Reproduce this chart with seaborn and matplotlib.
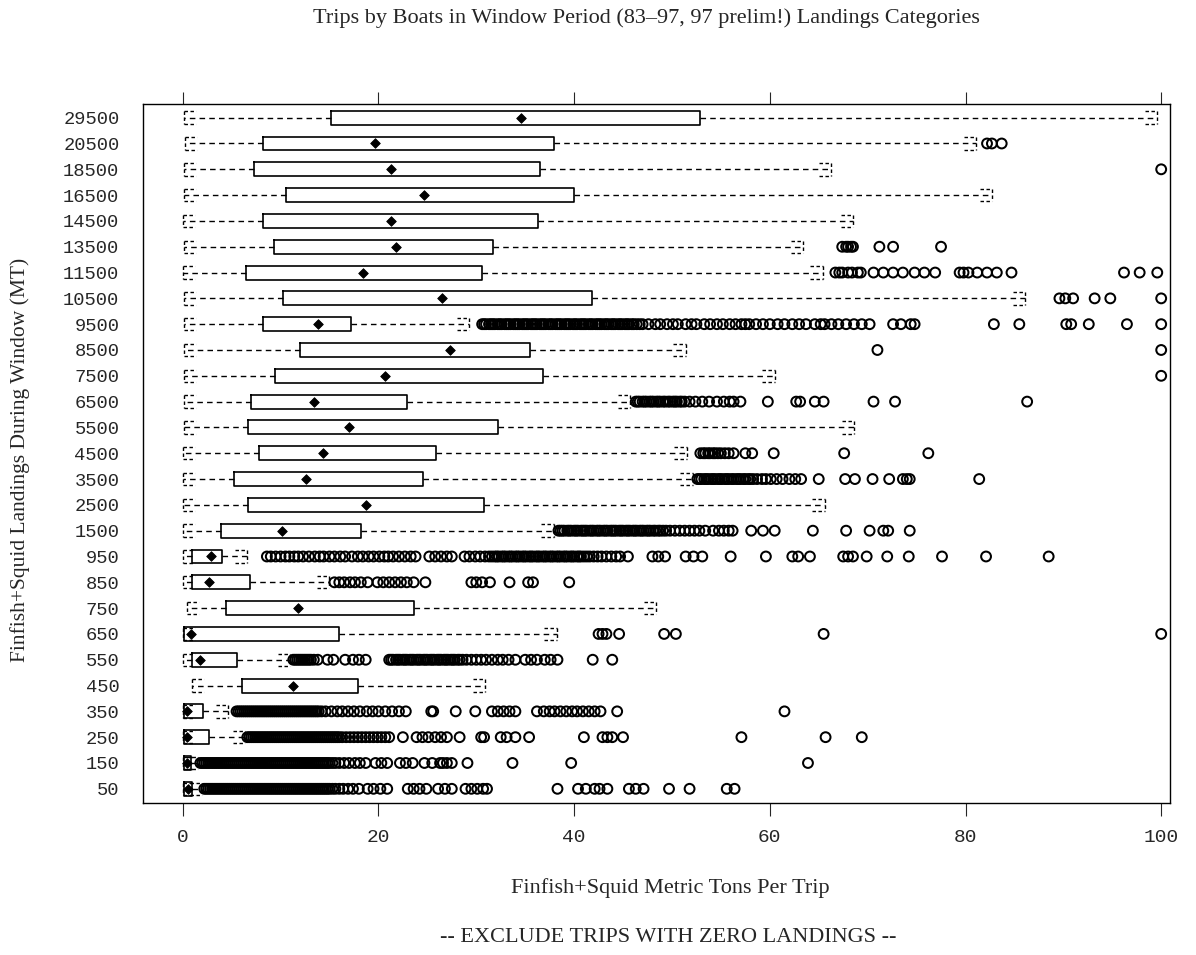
import matplotlib
matplotlib.use("Agg")
import matplotlib.pyplot as plt
import numpy as np
import pandas as pd
import seaborn as sns

# Landings categories (MT), top to bottom
categories = ["29500", "20500", "18500", "16500", "14500", "13500", "11500",
              "10500", "9500", "8500", "7500", "6500", "5500", "4500", "3500",
              "2500", "1500", "950", "850", "750", "650", "550", "450", "350",
              "250", "150", "50"]

# Box summaries: metric tons per trip
whisker_low = [0.1, 0.2, 0.1, 0.1, 0.0, 0.1, 0.0, 0.1, 0.1, 0.1, 0.1, 0.1, 0.1, 0.0,
               0.0, 0.0, 0.0, 0.0, 0.0, 0.4, 0.0, 0.0, 0.9, 0.0, 0.0, 0.0, 0.0]
quart1 = [15.2, 8.2, 7.3, 10.6, 8.2, 9.3, 6.5, 10.2, 8.2, 12.0, 9.4, 7.0, 6.7, 7.8,
          5.2, 6.7, 3.9, 0.9, 0.9, 4.4, 0.1, 0.9, 6.1, 0.1, 0.1, 0.1, 0.1]
quart3 = [52.9, 37.9, 36.5, 40.0, 36.3, 31.7, 30.6, 41.8, 17.2, 35.5, 36.8, 22.9, 32.2,
          25.9, 24.6, 30.8, 18.2, 4.0, 6.9, 23.6, 16.0, 5.5, 17.9, 2.1, 2.7, 0.8, 0.9]
means = [34.6, 19.6, 21.3, 24.7, 21.3, 21.8, 18.4, 26.5, 13.8, 27.3, 20.7, 13.4, 17.0,
         14.3, 12.6, 18.7, 10.1, 2.9, 2.7, 11.8, 0.8, 1.8, 11.3, 0.4, 0.4, 0.4, 0.5]
whisker_high = [99.6, 81.1, 66.3, 82.7, 68.5, 63.4, 65.4, 86.1, 29.3, 51.4, 60.5, 45.7,
                68.6, 51.5, 52.1, 65.6, 37.9, 6.6, 15.0, 48.4, 38.2, 11.0, 30.9, 4.6,
                6.4, 1.6, 2.0]

# Outlying trips per category
out_29500 = []
out_20500 = [82.2, 82.7, 83.7]
out_18500 = [100.0]
out_16500 = []
out_14500 = []
out_13500 = [67.4, 67.8, 68.0, 68.3, 68.5, 71.2, 72.6, 77.5]
out_11500 = [66.7, 67.1, 67.4, 68.0, 68.4, 69.0, 69.3, 70.6, 71.6, 72.6, 73.6, 74.8,
             75.8, 76.9, 79.4, 79.8, 80.3, 81.2, 82.2, 83.2, 84.7, 96.2, 97.8, 99.6]
out_10500 = [89.6, 90.2, 91.0, 93.2, 94.8, 100.0]
out_9500 = [30.6, 30.8, 31.0, 31.3, 31.5, 31.7, 31.9, 32.2, 32.4, 32.6, 32.9, 33.1,
            33.3, 33.5, 33.8, 34.0, 34.2, 34.4, 34.7, 34.9, 35.1, 35.3, 35.6, 35.8,
            36.0, 36.2, 36.5, 36.7, 36.9, 37.1, 37.4, 37.6, 37.8, 38.1, 38.3, 38.5,
            38.7, 39.0, 39.2, 39.4, 39.6, 39.9, 40.1, 40.3, 40.6, 40.8, 41.0, 41.2,
            41.5, 41.7, 41.9, 42.2, 42.4, 42.6, 42.8, 43.1, 43.3, 43.5, 43.8, 44.0,
            44.2, 44.5, 44.7, 44.9, 45.2, 45.4, 45.6, 45.9, 46.1, 46.4, 46.7, 47.0,
            47.6, 48.3, 48.8, 49.5, 50.1, 50.6, 51.4, 52.0, 52.5, 53.3, 53.9, 54.6,
            55.2, 55.9, 56.5, 57.1, 57.5, 57.9, 58.6, 59.3, 60.0, 60.8, 61.5, 62.3,
            63.0, 63.7, 64.6, 65.2, 65.6, 66.3, 67.0, 67.8, 68.6, 69.4, 70.2, 72.6,
            73.4, 74.4, 74.8, 82.9, 85.5, 90.3, 90.8, 92.6, 96.5, 100.0]
out_8500 = [71.0, 100.0]
out_7500 = [100.0]
out_6500 = [46.3, 46.5, 46.7, 47.0, 47.2, 47.4, 47.7, 47.9, 48.1, 48.4, 48.6, 48.8,
            49.1, 49.3, 49.6, 49.8, 50.1, 50.3, 50.5, 50.8, 51.0, 51.3, 51.8, 52.4,
            53.1, 53.8, 54.6, 55.3, 55.9, 56.3, 57.0, 59.8, 62.7, 63.1, 64.6, 65.5,
            70.6, 72.8, 86.3]
out_5500 = []
out_4500 = [52.9, 53.2, 53.4, 53.7, 53.9, 54.2, 54.4, 54.7, 55.0, 55.4, 55.8, 56.3,
            57.5, 58.2, 60.4, 67.6, 76.2]
out_3500 = [52.6, 52.8, 53.0, 53.3, 53.5, 53.7, 54.0, 54.2, 54.4, 54.7, 54.9, 55.1,
            55.4, 55.6, 55.8, 56.1, 56.3, 56.6, 56.8, 57.0, 57.3, 57.5, 57.8, 58.0,
            58.3, 58.7, 59.2, 59.6, 60.1, 60.7, 61.3, 62.0, 62.6, 63.2, 65.0, 67.7,
            68.7, 70.5, 72.2, 73.6, 74.0, 74.3, 81.4]
out_2500 = []
out_1500 = [38.4, 38.6, 38.8, 39.0, 39.3, 39.5, 39.7, 40.0, 40.2, 40.4, 40.7, 40.9,
            41.1, 41.3, 41.6, 41.8, 42.0, 42.3, 42.5, 42.7, 43.0, 43.2, 43.4, 43.7,
            43.9, 44.1, 44.3, 44.6, 44.8, 45.0, 45.3, 45.5, 45.7, 46.0, 46.2, 46.4,
            46.7, 46.9, 47.1, 47.4, 47.6, 47.8, 48.1, 48.3, 48.6, 48.8, 49.1, 49.4,
            49.8, 50.3, 50.8, 51.3, 51.8, 52.3, 52.8, 53.4, 54.2, 54.8, 55.3, 55.8,
            56.2, 58.1, 59.3, 60.5, 64.4, 67.8, 70.2, 71.6, 72.1, 74.3]
out_950 = [8.6, 9.0, 9.5, 10.0, 10.5, 10.9, 11.4, 11.8, 12.3, 12.9, 13.5, 14.0, 14.4,
           15.0, 15.5, 16.1, 16.6, 17.3, 17.9, 18.4, 19.0, 19.5, 20.1, 20.6, 21.0,
           21.5, 22.1, 22.7, 23.3, 23.8, 25.2, 25.8, 26.4, 27.0, 27.5, 28.8, 29.3,
           29.9, 30.4, 30.9, 31.3, 31.6, 31.9, 32.1, 32.3, 32.6, 32.8, 33.0, 33.3,
           33.5, 33.7, 34.0, 34.2, 34.4, 34.7, 34.9, 35.1, 35.4, 35.6, 35.8, 36.1,
           36.3, 36.5, 36.8, 37.0, 37.2, 37.5, 37.7, 37.9, 38.2, 38.4, 38.6, 38.9,
           39.1, 39.3, 39.6, 39.8, 40.0, 40.3, 40.5, 40.7, 41.0, 41.3, 41.6, 42.0,
           42.4, 42.8, 43.3, 43.8, 44.3, 44.7, 45.5, 48.0, 48.6, 49.3, 51.4, 52.2,
           53.1, 56.0, 59.6, 62.3, 62.9, 64.1, 67.5, 68.0, 68.5, 69.9, 72.0, 74.2,
           77.6, 82.1, 88.5]
out_850 = [15.5, 16.0, 16.5, 17.1, 17.6, 18.2, 18.9, 19.9, 20.5, 21.1, 21.7, 22.3,
           22.9, 23.6, 24.8, 29.5, 30.0, 30.6, 31.4, 33.4, 35.3, 35.8, 39.5]
out_750 = []
out_650 = [42.5, 42.9, 43.3, 44.6, 49.2, 50.4, 65.5, 100.0]
out_550 = [11.3, 11.5, 11.7, 11.9, 12.1, 12.3, 12.5, 12.7, 12.9, 13.1, 13.4, 13.8,
           14.8, 15.4, 16.6, 17.4, 18.0, 18.7, 21.1, 21.3, 21.5, 21.8, 22.0, 22.2,
           22.5, 22.7, 22.9, 23.2, 23.4, 23.6, 23.9, 24.1, 24.3, 24.6, 24.8, 25.0,
           25.3, 25.5, 25.7, 26.0, 26.2, 26.4, 26.7, 26.9, 27.1, 27.4, 27.6, 27.8,
           28.1, 28.3, 28.6, 29.0, 29.5, 30.0, 30.5, 31.0, 31.6, 32.2, 32.7, 33.3,
           34.0, 35.0, 35.6, 36.2, 37.0, 37.6, 38.3, 41.9, 43.9]
out_450 = []
out_350 = [5.5, 5.7, 5.9, 6.1, 6.3, 6.5, 6.7, 6.9, 7.1, 7.3, 7.5, 7.7, 7.9, 8.1, 8.3,
           8.5, 8.7, 8.9, 9.1, 9.3, 9.5, 9.7, 9.9, 10.1, 10.3, 10.5, 10.7, 10.9,
           11.1, 11.3, 11.5, 11.7, 11.9, 12.1, 12.3, 12.5, 12.7, 12.9, 13.1, 13.3,
           13.5, 13.7, 13.9, 14.2, 14.6, 15.2, 15.8, 16.3, 16.9, 17.5, 18.1, 18.8,
           19.4, 20.0, 20.7, 21.4, 22.1, 22.8, 25.4, 25.6, 27.9, 29.9, 31.6, 32.2,
           32.8, 33.4, 34.0, 36.2, 36.9, 37.5, 38.0, 38.6, 39.2, 39.8, 40.3, 40.9,
           41.5, 42.1, 42.7, 44.4, 61.5]
out_250 = [6.6, 6.8, 7.0, 7.2, 7.4, 7.6, 7.8, 8.0, 8.2, 8.4, 8.6, 8.8, 9.0, 9.2, 9.4,
           9.6, 9.8, 10.0, 10.2, 10.4, 10.6, 10.8, 11.0, 11.2, 11.4, 11.6, 11.8,
           12.0, 12.2, 12.4, 12.6, 12.8, 13.0, 13.2, 13.4, 13.6, 13.8, 14.0, 14.2,
           14.4, 14.6, 14.8, 15.0, 15.2, 15.4, 15.6, 15.8, 16.0, 16.3, 16.7, 17.1,
           17.5, 17.9, 18.3, 18.7, 19.1, 19.5, 19.9, 20.3, 20.7, 21.1, 22.5, 23.9,
           24.5, 25.1, 25.8, 26.4, 27.0, 28.3, 30.5, 30.8, 32.5, 33.1, 34.0, 35.4,
           41.0, 42.9, 43.4, 43.9, 45.0, 57.1, 65.7, 69.4]
out_150 = [1.8, 2.0, 2.2, 2.4, 2.6, 2.8, 3.0, 3.2, 3.4, 3.6, 3.8, 4.0, 4.2, 4.4, 4.6,
           4.8, 5.0, 5.2, 5.4, 5.6, 5.8, 6.0, 6.2, 6.4, 6.6, 6.8, 7.0, 7.2, 7.4, 7.6,
           7.8, 8.0, 8.2, 8.4, 8.6, 8.8, 9.0, 9.2, 9.4, 9.6, 9.8, 10.0, 10.2, 10.4,
           10.6, 10.8, 11.0, 11.2, 11.4, 11.6, 11.8, 12.0, 12.2, 12.4, 12.6, 12.8,
           13.0, 13.2, 13.4, 13.6, 13.8, 14.0, 14.2, 14.4, 14.6, 14.8, 15.0, 15.3,
           15.6, 16.0, 16.5, 17.0, 17.6, 18.1, 18.7, 19.7, 20.3, 20.9, 22.2, 22.8,
           23.5, 24.7, 25.5, 26.3, 26.6, 27.0, 27.5, 29.1, 33.7, 39.7, 63.9]
out_50 = [2.2, 2.4, 2.6, 2.8, 3.0, 3.2, 3.4, 3.6, 3.8, 4.0, 4.2, 4.4, 4.6, 4.8, 5.0,
          5.2, 5.4, 5.6, 5.8, 6.0, 6.2, 6.4, 6.6, 6.8, 7.0, 7.2, 7.4, 7.6, 7.8, 8.0,
          8.2, 8.4, 8.6, 8.8, 9.0, 9.2, 9.4, 9.6, 9.8, 10.0, 10.2, 10.4, 10.6, 10.8,
          11.0, 11.2, 11.4, 11.6, 11.8, 12.0, 12.2, 12.4, 12.6, 12.8, 13.0, 13.2,
          13.4, 13.6, 13.8, 14.0, 14.2, 14.4, 14.6, 14.8, 15.0, 15.3, 15.6, 16.0,
          16.4, 16.9, 17.4, 18.0, 18.9, 19.5, 20.2, 20.9, 23.0, 23.6, 24.2, 24.9,
          26.1, 26.8, 27.5, 28.9, 29.5, 30.1, 30.7, 31.1, 38.3, 40.4, 41.2, 42.1,
          42.6, 43.4, 45.6, 46.3, 47.1, 49.7, 51.8, 55.6, 56.4]

outliers = [out_29500, out_20500, out_18500, out_16500, out_14500, out_13500,
            out_11500, out_10500, out_9500, out_8500, out_7500, out_6500, out_5500,
            out_4500, out_3500, out_2500, out_1500, out_950, out_850, out_750,
            out_650, out_550, out_450, out_350, out_250, out_150, out_50]

x_ticks = [0, 20, 40, 60, 80, 100]

title = "Trips by Boats in Window Period (83\u201397, 97 prelim!) Landings Categories"
x_title = "Finfish+Squid Metric Tons Per Trip"
y_title = "Finfish+Squid Landings During Window (MT)"
note = "-- EXCLUDE TRIPS WITH ZERO LANDINGS --"

sns.set_style("ticks")
plt.rcParams["font.family"] = ["Liberation Serif", "DejaVu Serif"]

W, H = 1196, 955
fig = plt.figure(figsize=(W / 100, H / 100), dpi=100)
ax = fig.add_axes([143 / W, 1 - 803 / H, (1170 - 143) / W, (803 - 104) / H])

pos = np.arange(len(categories))
box_h = 0.54

stats = []
for i in range(len(categories)):
    stats.append(dict(q1=quart1[i], q3=quart3[i], med=means[i], mean=means[i],
                      whislo=whisker_low[i], whishi=whisker_high[i], fliers=[]))

common = dict(positions=pos, widths=box_h, showcaps=False, showfliers=False,
              showmeans=False,
              boxprops=dict(color="black", linewidth=1.2),
              medianprops=dict(linewidth=0),
              whiskerprops=dict(color="black", linewidth=1.0, linestyle=(0, (4, 3))))
try:
    ax.bxp(stats, orientation="horizontal", **common)
except TypeError:
    ax.bxp(stats, vert=False, **common)

# Dashed bracket ends at whisker limits
cap_w = 1.25
cap_h = 0.24
dash = (0, (2.5, 1.8))
for i in range(len(categories)):
    lo, hi = whisker_low[i], whisker_high[i]
    ax.vlines([lo, hi], pos[i] - cap_h, pos[i] + cap_h, colors="black",
              linewidth=1.0, linestyles=dash)
    for yy in (pos[i] - cap_h, pos[i] + cap_h):
        ax.hlines(yy, lo, lo + cap_w, colors="black", linewidth=1.0, linestyles=dash)
        ax.hlines(yy, hi - cap_w, hi, colors="black", linewidth=1.0, linestyles=dash)

# Outlying trips as open circles
out_df = pd.DataFrame({
    "tons": [v for lst in outliers for v in lst],
    "row": [i for i, lst in enumerate(outliers) for _ in lst],
})
sns.scatterplot(data=out_df, x="tons", y="row", ax=ax, marker="o", s=50,
                facecolor="none", edgecolor="black", linewidth=1.45, legend=False,
                zorder=3)

# Category means as filled diamonds
mean_df = pd.DataFrame({"tons": means, "row": pos})
sns.scatterplot(data=mean_df, x="tons", y="row", ax=ax, marker="D", s=24,
                color="black", edgecolor="black", linewidth=0.6, legend=False,
                zorder=4)

ax.set_xlim(-4.06, 100.9)
ax.set_ylim(26.55, -0.53)
ax.set_yticks(pos)
ax.set_yticklabels(categories, family="Liberation Mono", fontsize=13.5)
ax.set_xticks(x_ticks)
ax.set_xticklabels([str(t) for t in x_ticks], family="Liberation Mono", fontsize=14)
ax.tick_params(axis="y", length=0, pad=17)
ax.tick_params(axis="x", top=True, bottom=True, labeltop=False, direction="out",
               length=9, width=0.8, pad=10)
ax.set_xlabel("")
ax.set_ylabel("")
for s in ax.spines.values():
    s.set_visible(True)
    s.set_linewidth(1.0)
    s.set_color("black")

fig.text(646 / W, 1 - 18 / H, title, ha="center", va="center", fontsize=16)
fig.text(670 / W, 1 - 888 / H, x_title, ha="center", va="center", fontsize=16)
fig.text(20 / W, 1 - 460 / H, y_title, ha="center", va="center", rotation=90,
         fontsize=15.5)
fig.text(668 / W, 1 - 937 / H, note, ha="center", va="center", fontsize=16)

fig.savefig("out.png", dpi=100, facecolor="white")
